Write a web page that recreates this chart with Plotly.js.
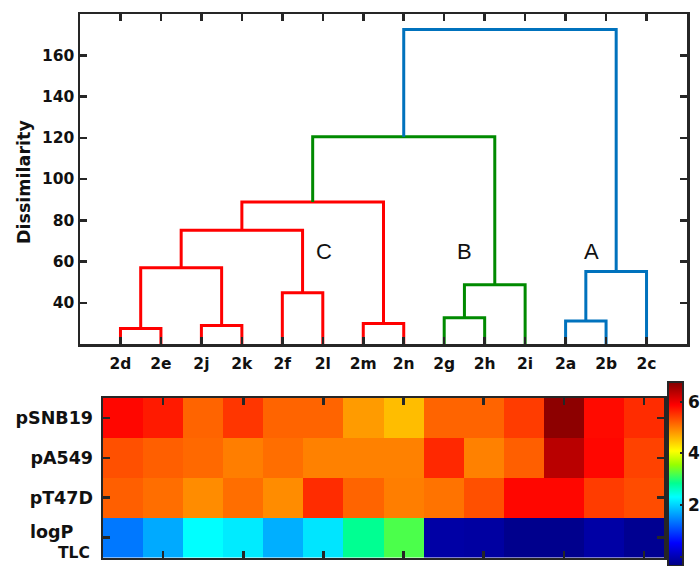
<!DOCTYPE html>
<html><head><meta charset="utf-8">
<script src="https://cdn.plot.ly/plotly-3.0.1.min.js"></script>
<style>html,body{margin:0;padding:0;background:#fff}</style>
</head><body><div id="chart" style="width:700px;height:566px"></div>
<script>
// Dendrogram leaves (left-to-right order)
const leaves = ['2d','2e','2j','2k','2f','2l','2m','2n','2g','2h','2i','2a','2b','2c'];
// Linkage: merge k (m1..m13) joins mergeA[k] and mergeB[k] at mergeH[k]
const mergeA = ['2d','2j','2f','2m','2g','2a','m1','m7','m8','m5','m6','m9','m12'];
const mergeB = ['2e','2k','2l','2n','2h','2b','m2','m3','m4','2i','2c','m10','m11'];
const mergeH = [27.5, 29, 44.9, 30, 32.7, 31.1, 57, 75.2, 88.9, 48.7, 55.2, 120.5, 172.5];
const mergeGroup = ['C','C','C','C','B','A','C','C','C','B','A','B','A'];
const groupColors = {C:'#ff0000', B:'#008a00', A:'#0072bd'};
const clusterLabels = ['C','B','A'];

// Heatmap
const heatRows = ['pSNB19','pA549','pT47D','logP','TLC'];
const pSNB19 = [5.83,5.69,5.17,5.49,5.17,5.17,4.79,4.55,5.17,5.17,5.45,6.67,5.80,5.56];
const pA549  = [5.31,5.21,5.14,4.99,5.10,4.97,4.97,4.97,5.59,4.97,5.21,6.36,5.83,5.41];
const pT47D  = [5.21,5.10,4.89,5.10,4.89,5.56,5.17,4.99,5.07,5.31,5.83,5.83,5.45,5.34];
const logPTLC= [1.37,1.72,2.31,2.17,1.75,2.13,2.84,3.20,-0.10,-0.13,-0.27,-0.27,-0.10,-0.24];
const colorbarTicks = [0,2,4,6];
const dissimTicks = [40,60,80,100,120,140,160];

// build dendrogram geometry from linkage
const pos = {}, hgt = {};
leaves.forEach((l,i)=>{pos[l]=i+1; hgt[l]=0;});
const segs = {A:{x:[],y:[]}, B:{x:[],y:[]}, C:{x:[],y:[]}};
mergeA.forEach((a,k)=>{
  const b = mergeB[k], h = mergeH[k], g = mergeGroup[k], s = segs[g];
  s.x.push(pos[a], pos[a], pos[b], pos[b], null);
  s.y.push(hgt[a], h, h, hgt[b], null);
  const id = 'm'+(k+1);
  pos[id] = (pos[a]+pos[b])/2; hgt[id] = h;
});

const traces = [];
['C','B','A'].forEach(g=>{
  traces.push({type:'scatter', mode:'lines', x:segs[g].x, y:segs[g].y,
    line:{color:groupColors[g], width:3}, hoverinfo:'skip', showlegend:false,
    xaxis:'x', yaxis:'y'});
});

const jet = [[0,'rgb(0,0,128)'],[0.125,'rgb(0,0,255)'],[0.375,'rgb(0,255,255)'],
             [0.45,'rgb(0,255,145)'],[0.5,'rgb(75,255,75)'],[0.55,'rgb(150,255,0)'],
             [0.625,'rgb(255,255,0)'],[0.875,'rgb(255,0,0)'],[1,'rgb(128,0,0)']];
traces.push({type:'heatmap', z:[pSNB19,pA549,pT47D,logPTLC],
  x:leaves.map((_,i)=>i+1), y:[0,1,2,3], xaxis:'x2', yaxis:'y2',
  colorscale:jet, zmin:-0.36, zmax:6.76, hoverinfo:'skip',
  colorbar:{x:668/700, xanchor:'left', y:1-382/566, yanchor:'top',
    len:184/566, lenmode:'fraction', thickness:15, thicknessmode:'pixels',
    xpad:0, ypad:0, outlinewidth:2, outlinecolor:'#262626',
    tickvals:colorbarTicks, ticks:'inside', ticklen:4, tickcolor:'#262626', tickwidth:2,
    tickfont:{family:'DejaVu Sans', size:17, color:'#111', weight:'bold'}}
});

const axCommon = {showgrid:false, zeroline:false, showline:true, linewidth:2.5,
  linecolor:'#262626', ticks:'inside', ticklen:7, tickwidth:2.5, tickcolor:'#262626',
  mirror:'ticks', fixedrange:true};
const tf15 = {family:'DejaVu Sans', size:15.5, color:'#111', weight:'bold'};
const rowFont = {family:'DejaVu Sans', size:17.5, color:'#111', weight:'bold'};
const subFont = {family:'DejaVu Sans', size:15.5, color:'#111', weight:'bold'};

const layout = {
  width:700, height:566, margin:{l:0,r:0,t:0,b:0, autoexpand:false},
  paper_bgcolor:'#fff', plot_bgcolor:'#fff', showlegend:false,
  xaxis:Object.assign({}, axCommon, {domain:[80/700,687/700], range:[0,15],
    tickvals:leaves.map((_,i)=>i+1), ticktext:leaves, tickfont:tf15, anchor:'y',
    ticklabelstandoff:4}),
  yaxis:Object.assign({}, axCommon, {domain:[1-344/566,1-14/566], range:[20,180],
    tickvals:dissimTicks, tickfont:tf15, anchor:'x'}),
  xaxis2:Object.assign({}, axCommon, {domain:[103/700,664/700], range:[0.5,14.5],
    tickvals:[2,4,6,8,10,12,14], showticklabels:false, anchor:'y2'}),
  yaxis2:Object.assign({}, axCommon, {domain:[1-557.5/566,1-398/566], range:[3.5,-0.5],
    tickvals:[0,1,2,3], ticktext:heatRows.slice(0,3).concat(['']), anchor:'x2',
    ticklabelstandoff:4, tickfont:rowFont}),
  annotations:[
    {text:'Dissimilarity', xref:'paper', yref:'paper', x:24/700, y:1-182/566,
     textangle:-90, showarrow:false, xanchor:'center', yanchor:'middle',
     font:{family:'DejaVu Sans', size:17.5, color:'#111', weight:'bold'}},
    {text:clusterLabels[0], xref:'x', yref:'y', x:6.03, y:65, showarrow:false,
     font:{family:'Liberation Sans', size:22, color:'#111'}},
    {text:clusterLabels[1], xref:'x', yref:'y', x:9.51, y:65, showarrow:false,
     font:{family:'Liberation Sans', size:22, color:'#111'}},
    {text:clusterLabels[2], xref:'x', yref:'y', x:12.65, y:65, showarrow:false,
     font:{family:'Liberation Sans', size:22, color:'#111'}},
    {text:heatRows[3], xref:'paper', yref:'paper', x:76/700, y:1-531.5/566,
     xanchor:'right', yanchor:'middle', showarrow:false, font:rowFont},
    {text:heatRows[4], xref:'paper', yref:'paper', x:92/700, y:1-552.5/566,
     xanchor:'right', yanchor:'middle', showarrow:false, font:subFont}
  ]
};
Plotly.newPlot('chart', traces, layout, {staticPlot:true, displayModeBar:false});
</script></body></html>
